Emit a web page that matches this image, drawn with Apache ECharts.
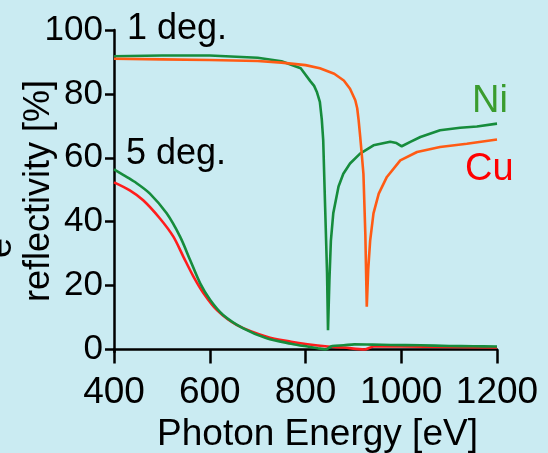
<!DOCTYPE html>
<html>
<head>
<meta charset="utf-8">
<script src="https://cdn.jsdelivr.net/npm/echarts@6/dist/echarts.min.js"></script>
<style>
  html, body { margin: 0; padding: 0; background: #caebf2; }
  #chart { width: 548px; height: 453px; }
</style>
</head>
<body>
<div id="chart"></div>
<script>
// 1 deg. Ni
const ni1Energy = [400, 500, 600, 700, 750, 790, 810, 818, 824, 830, 834, 837, 841, 845, 847, 850, 853, 858, 869, 879, 893, 914, 942, 977, 990, 1001, 1019, 1040, 1081, 1123, 1158, 1200];
const ni1Refl   = [91.8, 92, 92, 91.3, 90.2, 88, 84, 82.5, 80.5, 77.5, 72, 65.5, 44.6, 24, 6, 22, 34, 42.6, 51, 55, 58.2, 61.3, 63.9, 65, 64.6, 63.6, 65, 66.5, 68.6, 69.4, 69.8, 70.7];
// 1 deg. Cu
const cu1Energy = [400, 500, 600, 700, 750, 800, 830, 860, 880, 893, 904, 908, 911, 914, 917, 921, 925, 928, 931, 935, 942, 953, 970, 998, 1033, 1081, 1137, 1200];
const cu1Refl   = [91, 90.8, 90.6, 90.3, 89.8, 89, 88, 86.3, 84.2, 81.6, 78, 75.5, 71.7, 67, 62, 55, 36, 13.4, 25, 34, 42.6, 48.8, 54, 59.2, 61.8, 63.4, 64.4, 65.7];
// 5 deg. Ni
const ni5Energy = [400, 420, 444, 475, 510, 538, 559, 580, 601, 628, 670, 719, 770, 804, 825, 842, 856, 880, 902, 940, 978, 1040, 1100, 1150, 1200];
const ni5Refl   = [56.4, 54.6, 52.4, 48.8, 42.6, 35.3, 28, 20.7, 15.5, 10.8, 6.6, 3.5, 1.8, 0.9, 0.4, 0, 1.1, 1.3, 1.6, 1.5, 1.4, 1.3, 1.1, 1.0, 0.9];
// 5 deg. Cu
const cu5Energy = [400, 433, 461, 496, 524, 545, 566, 587, 615, 656, 719, 770, 804, 846, 880, 923, 943, 1000, 1100, 1200];
const cu5Refl   = [52.3, 49.8, 46.7, 41, 35.3, 29, 22.8, 17.6, 12.3, 7.7, 4, 2.4, 1.6, 0.9, 0.6, 0, 0.9, 0.9, 0.8, 0.6];

const yTicks = [0, 20, 40, 60, 80, 100];

const pairs = (xs, ys) => xs.map((x, i) => [x, ys[i]]);

const font = "'Liberation Sans', Arial, sans-serif";
const green = "#168c3c";
const orange = "#ff5b14";
const red = "#ff1c1c";

const chart = echarts.init(document.getElementById("chart"));

const lineSeries = (name, data, color, smooth) => ({
  name: name,
  type: "line",
  data: data,
  showSymbol: false,
  smooth: smooth,
  lineStyle: { color: color, width: 2.6 },
  itemStyle: { color: color },
  animation: false,
});

const option = {
  backgroundColor: "#caebf2",
  grid: { left: 114, right: 51, top: 30, bottom: 101, outerBoundsMode: "none", containLabel: false },
  xAxis: {
    type: "value",
    min: 400,
    max: 1200,
    interval: 200,
    name: "Photon Energy [eV]",
    nameLocation: "middle",
    nameGap: 64,
    nameMoveOverlap: false,
    nameTextStyle: { color: "#000", fontSize: 37, fontFamily: font, padding: [0, 0, 0, 24] },
    axisLine: { lineStyle: { color: "#000", width: 2.5 } },
    axisTick: { length: 14, lineStyle: { color: "#000", width: 2.5 } },
    axisLabel: { color: "#000", fontSize: 37, fontFamily: font, margin: 22, formatter: (v) => String(v) },
    splitLine: { show: false },
  },
  yAxis: {
    type: "value",
    min: -0.8,
    max: 100,
    name: "reflectivity [%]",
    nameLocation: "middle",
    nameGap: 57,
    nameMoveOverlap: false,
    nameRotate: 90,
    nameTextStyle: { color: "#000", fontSize: 36, fontFamily: font },
    axisLine: { show: true, lineStyle: { color: "#000", width: 2.5 } },
    axisTick: { show: true, length: 9, customValues: yTicks, lineStyle: { color: "#000", width: 2.5 } },
    axisLabel: { color: "#000", fontSize: 35, fontFamily: font, margin: 11, customValues: yTicks, formatter: (v) => String(v) },
    splitLine: { show: false },
  },
  series: [
    lineSeries("Ni 1 deg.", pairs(ni1Energy, ni1Refl), green, false),
    lineSeries("Cu 1 deg.", pairs(cu1Energy, cu1Refl), orange, false),
    lineSeries("Cu 5 deg.", pairs(cu5Energy, cu5Refl), red, 0.3),
    lineSeries("Ni 5 deg.", pairs(ni5Energy, ni5Refl), green, 0.3),
  ],
  graphic: [
    { type: "text", x: 127, y: 29, style: { text: "1 deg.", fill: "#000", font: "36px " + font, textVerticalAlign: "middle" } },
    { type: "text", x: 126, y: 154, style: { text: "5 deg.", fill: "#000", font: "36px " + font, textVerticalAlign: "middle" } },
    { type: "text", x: 472, y: 102, style: { text: "Ni", fill: "#3a9c2e", font: "38px " + font, textVerticalAlign: "middle" } },
    { type: "text", x: 465, y: 170, style: { text: "Cu", fill: "#ff0000", font: "38px " + font, textVerticalAlign: "middle" } },
    { type: "text", x: 1, y: 248, rotation: Math.PI / 2, style: { text: "e", fill: "#000", font: "36px " + font, textAlign: "center", textVerticalAlign: "middle" } },
  ],
};

chart.setOption(option);
</script>
</body>
</html>
